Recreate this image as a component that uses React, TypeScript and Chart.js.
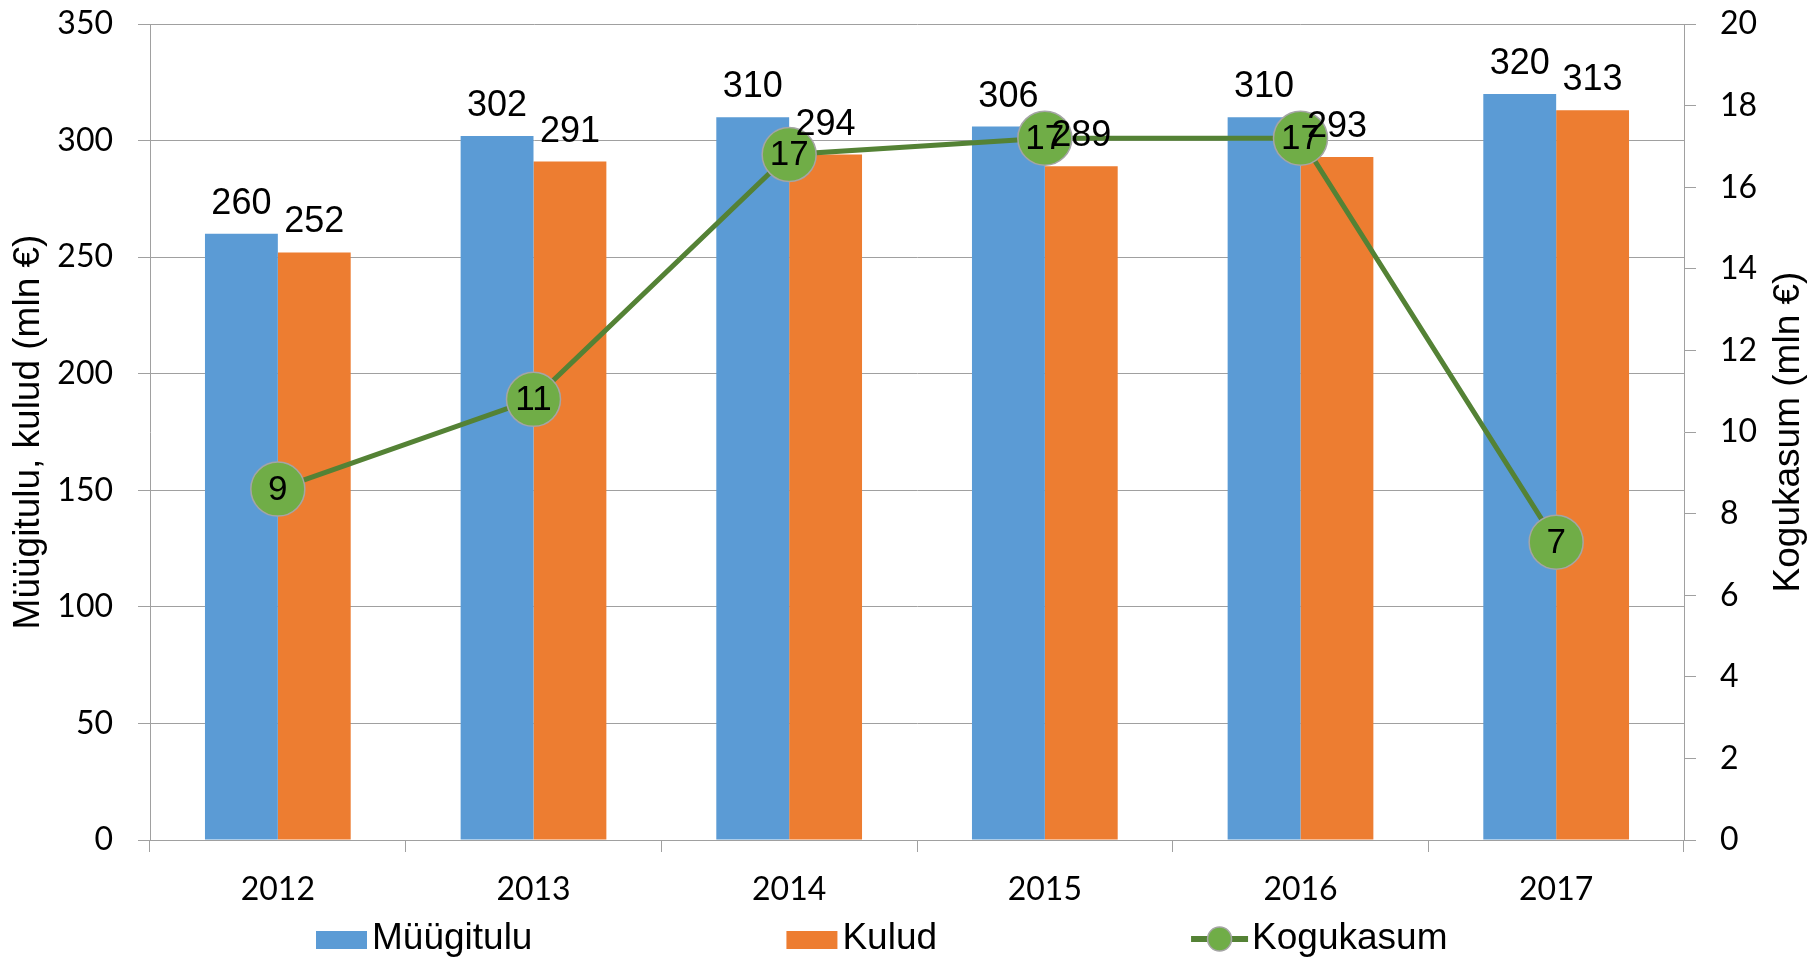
import React, { useEffect, useRef } from 'react';
import { Chart, registerables } from 'chart.js';

Chart.register(...registerables);

const categories = ['2012', '2013', '2014', '2015', '2016', '2017'];
const salesValues = [260, 302, 310, 306, 310, 320];
const costValues = [252, 291, 294, 289, 293, 313];
const profitValues = [8.6, 10.8, 16.8, 17.2, 17.2, 7.3];
const seriesNames = ['Kogukasum', 'Müügitulu', 'Kulud'];
const leftAxisTitle = 'Müügitulu, kulud (mln €)';
const rightAxisTitle = 'Kogukasum (mln €)';

const BLUE = '#5b9bd5';
const ORANGE = '#ed7d31';
const LINE = '#548235';
const POINT = '#70ad47';
const GRID = '#a0a0a0';
const TICK_FONT = { family: 'Lato', size: 32 };
const LABEL_FAMILY = '"Liberation Sans", Arial, sans-serif';

const labelPlugin = {
  id: 'valueLabels',
  afterDatasetsDraw(chart: any) {
    const ctx = chart.ctx;
    ctx.save();
    ctx.fillStyle = '#000';
    ctx.textAlign = 'center';
    ctx.font = '36px ' + LABEL_FAMILY;
    ctx.textBaseline = 'alphabetic';
    [1, 2].forEach((di) => {
      const meta = chart.getDatasetMeta(di);
      meta.data.forEach((el: any, i: number) => {
        ctx.fillText(String(chart.data.datasets[di].data[i]), el.x, el.y - 20);
      });
    });
    ctx.font = '35px ' + LABEL_FAMILY;
    ctx.textBaseline = 'middle';
    const lineMeta = chart.getDatasetMeta(0);
    lineMeta.data.forEach((el: any, i: number) => {
      ctx.fillText(String(Math.round(chart.data.datasets[0].data[i])), el.x, el.y + 1);
    });
    ctx.restore();
  },
};

const rightTitlePlugin = {
  id: 'rightTitle',
  afterDraw(chart: any) {
    const ctx = chart.ctx;
    const area = chart.chartArea;
    ctx.save();
    ctx.font = '37px ' + LABEL_FAMILY;
    ctx.fillStyle = '#000';
    ctx.textAlign = 'center';
    ctx.textBaseline = 'middle';
    ctx.translate(chart.width - 29, (area.top + area.bottom) / 2);
    ctx.rotate(-Math.PI / 2);
    ctx.fillText(rightAxisTitle, 0, 0);
    ctx.restore();
  },
};

const legendPlugin = {
  id: 'customLegend',
  afterDraw(chart: any) {
    const ctx = chart.ctx;
    ctx.save();
    ctx.font = '37px ' + LABEL_FAMILY;
    ctx.textBaseline = 'middle';
    ctx.textAlign = 'left';
    const y = 939;
    const gap = 254;
    let x = 316;
    const order = [1, 2, 0];
    order.forEach((di) => {
      const ds = chart.data.datasets[di];
      const iconW = 57;
      if (di === 0) {
        ctx.strokeStyle = LINE;
        ctx.lineWidth = 6;
        ctx.beginPath();
        ctx.moveTo(x, y);
        ctx.lineTo(x + iconW, y);
        ctx.stroke();
        ctx.beginPath();
        ctx.arc(x + iconW / 2, y, 12, 0, Math.PI * 2);
        ctx.fillStyle = POINT;
        ctx.fill();
        ctx.lineWidth = 1.5;
        ctx.strokeStyle = '#a5a5a5';
        ctx.stroke();
      } else {
        ctx.fillStyle = ds.backgroundColor;
        ctx.fillRect(x, y - 8, 51, 18);
      }
      const tx = x + (di === 0 ? iconW + 4 : 56);
      ctx.fillStyle = '#000';
      ctx.fillText(ds.label, tx, y);
      x = tx + ctx.measureText(ds.label).width + gap;
    });
    ctx.restore();
  },
};

export default function App() {
  const ref = useRef<HTMLCanvasElement | null>(null);

  useEffect(() => {
    if (!ref.current) return;
    const chart = new Chart(ref.current, {
      type: 'bar',
      data: {
        labels: categories,
        datasets: [
          {
            type: 'line',
            label: seriesNames[0],
            data: profitValues,
            yAxisID: 'y1',
            borderColor: LINE,
            borderWidth: 5,
            pointRadius: 27,
            pointHoverRadius: 27,
            pointBackgroundColor: POINT,
            pointBorderColor: '#a5a5a5',
            pointBorderWidth: 1.5,
            tension: 0,
            order: 0,
            clip: false,
          } as any,
          {
            type: 'bar',
            label: seriesNames[1],
            data: salesValues,
            backgroundColor: BLUE,
            yAxisID: 'y',
            categoryPercentage: 0.57,
            barPercentage: 1,
            order: 1,
          },
          {
            type: 'bar',
            label: seriesNames[2],
            data: costValues,
            backgroundColor: ORANGE,
            yAxisID: 'y',
            categoryPercentage: 0.57,
            barPercentage: 1,
            order: 2,
          },
        ],
      },
      options: {
        responsive: false,
        animation: false,
        layout: { autoPadding: false, padding: { top: 24, left: 0, right: 0, bottom: 0 } },
        plugins: {
          legend: { display: false },
          tooltip: { enabled: false },
        },
        scales: {
          x: {
            grid: { display: true, drawOnChartArea: false, drawTicks: true, tickLength: 12, color: GRID, offset: true },
            border: { display: true, color: GRID, width: 1 },
            ticks: { font: TICK_FONT, color: '#000', padding: 18, maxRotation: 0 },
            afterFit: (s: any) => { s.height = 118; },
          },
          y: {
            position: 'left',
            min: 0,
            max: 350,
            ticks: { stepSize: 50, font: TICK_FONT, color: '#000', padding: 25 },
            grid: { color: GRID, tickLength: 12 },
            border: { display: true, color: GRID },
            title: {
              display: true,
              text: leftAxisTitle,
              font: { family: LABEL_FAMILY, size: 37 },
              color: '#000',
              padding: { top: 7, bottom: 0 },
            },
            afterFit: (s: any) => { s.width = 150; s.paddingTop = 0; s.paddingBottom = 0; },
          },
          y1: {
            position: 'right',
            min: 0,
            max: 20,
            ticks: { stepSize: 2, font: TICK_FONT, color: '#000', padding: 24 },
            grid: { drawOnChartArea: false, color: GRID, tickLength: 12 },
            border: { display: true, color: GRID },
            title: { display: false },
            afterFit: (s: any) => { s.width = 134; s.paddingTop = 0; s.paddingBottom = 0; },
          },
        },
      } as any,
      plugins: [labelPlugin, legendPlugin, rightTitlePlugin],
    });
    return () => chart.destroy();
  }, []);

  return (
    <div style={{ position: 'fixed', left: 0, top: 0, width: 1818, height: 958, background: '#fff' }}>
      <canvas ref={ref} width={1818} height={958} style={{ display: 'block' }} />
    </div>
  );
}
